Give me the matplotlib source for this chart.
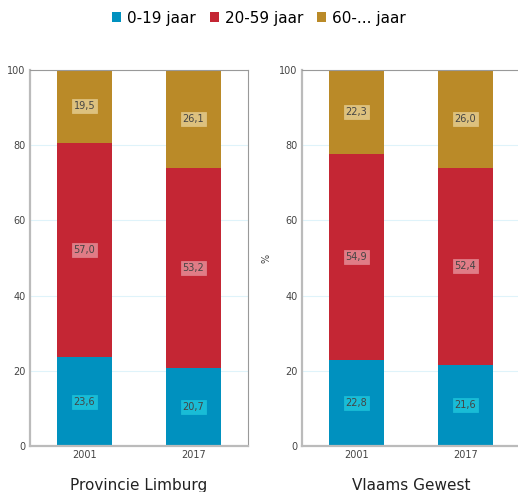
import matplotlib.pyplot as plt
from matplotlib.patches import Patch

# data
years = ["2001", "2017"]
regions = ["Provincie Limburg", "Vlaams Gewest"]
groups = ["0-19 jaar", "20-59 jaar", "60-... jaar"]
limburg_young = [23.6, 20.7]
limburg_mid = [57.0, 53.2]
limburg_old = [19.5, 26.1]
vlaams_young = [22.8, 21.6]
vlaams_mid = [54.9, 52.4]
vlaams_old = [22.3, 26.0]

colors = ["#0091bf", "#c42634", "#ba8a28"]
box_colors = ["#19bcd6", "#e07c86", "#ddc17e"]


def fmt(v):
    return f"{v:.1f}".replace(".", ",")


def draw_panel(ax, series, title, ylabel=None):
    x = list(range(len(years)))
    bottom = [0.0] * len(years)
    for vals, col, bcol in zip(series, colors, box_colors):
        ax.bar(x, vals, width=0.5, bottom=bottom, color=col, zorder=2)
        for xi, v, b in zip(x, vals, bottom):
            ax.text(xi, b + v / 2, fmt(v), ha="center", va="center", fontsize=7,
                    color="#444444", zorder=3,
                    bbox=dict(boxstyle="square,pad=0.2", fc=bcol, ec=bcol, lw=0.6))
        bottom = [b + v for b, v in zip(bottom, vals)]
    ax.set_xlim(-0.5, 1.5)
    ax.set_ylim(0, 100)
    ax.set_xticks(x)
    ax.set_xticklabels(years)
    ax.set_yticks([0, 20, 40, 60, 80, 100])
    ax.tick_params(axis="both", length=0, labelsize=7, colors="#444444", pad=3)
    ax.grid(axis="y", color="#dff3fa", lw=0.8, zorder=0)
    ax.set_axisbelow(True)
    for s in ax.spines.values():
        s.set_color("#999999")
        s.set_linewidth(0.8)
    ax.spines["left"].set_color("#bbbbbb")
    ax.spines["bottom"].set_color("#bbbbbb")
    ax.spines["left"].set_linewidth(1.6)
    ax.spines["bottom"].set_linewidth(1.6)
    if ylabel:
        ax.set_ylabel(ylabel, fontsize=7, color="#444444", labelpad=6)
    ax.text(0.5, -0.085, title, transform=ax.transAxes, ha="center", va="top",
            fontsize=11, color="#222222")


fig = plt.figure(figsize=(5.18, 4.92), dpi=100)
ax1 = fig.add_axes([0.0579, 0.0935, 0.4208, 0.7642])
ax2 = fig.add_axes([0.583, 0.0935, 0.4208, 0.7642])

draw_panel(ax1, [limburg_young, limburg_mid, limburg_old], regions[0])
draw_panel(ax2, [vlaams_young, vlaams_mid, vlaams_old], regions[1], ylabel="%")
# right panel runs past the image edge in the original
ax2.spines["right"].set_visible(False)

handles = [Patch(facecolor=c, label=g) for c, g in zip(colors, groups)]
fig.legend(handles=handles, loc="center", bbox_to_anchor=(0.5, 0.963), ncol=3,
           frameon=False, fontsize=11, handlelength=0.6, handleheight=0.6,
           handletextpad=0.4, columnspacing=0.9)

fig.savefig("out.png", dpi=100)
